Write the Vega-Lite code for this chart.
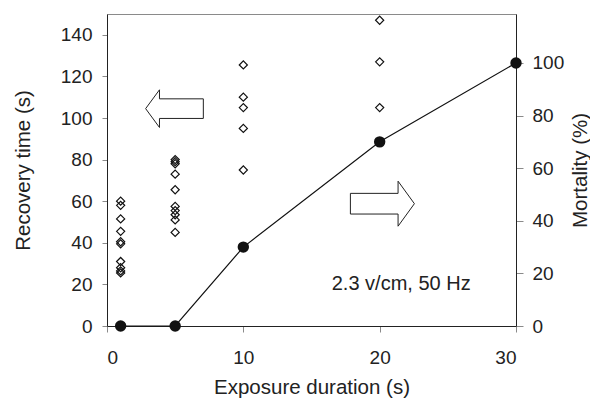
{
  "$schema": "https://vega.github.io/schema/vega-lite/v6.json",
  "autosize": "none",
  "width": 409,
  "height": 312,
  "padding": {"left": 107, "top": 14, "right": 74, "bottom": 74},
  "background": "white",
  "config": {
    "view": {"stroke": "#8a8a8a", "strokeWidth": 1},
    "font": "Liberation Sans",
    "axis": {
      "labelFont": "Liberation Sans",
      "titleFont": "Liberation Sans",
      "labelFontSize": 19,
      "titleFontSize": 20.5,
      "titleFontWeight": "normal",
      "labelColor": "#222",
      "titleColor": "#222",
      "domainColor": "#222",
      "tickColor": "#8a8a8a",
      "grid": false
    }
  },
  "datasets": {
    "recovery": [
      {"duration": 1, "recovery": 60},
      {"duration": 1, "recovery": 58},
      {"duration": 1, "recovery": 51.5},
      {"duration": 1, "recovery": 45.5},
      {"duration": 1, "recovery": 40.5},
      {"duration": 1, "recovery": 39.5},
      {"duration": 1, "recovery": 31},
      {"duration": 1, "recovery": 28},
      {"duration": 1, "recovery": 26.5},
      {"duration": 1, "recovery": 25.5},
      {"duration": 5, "recovery": 80},
      {"duration": 5, "recovery": 79},
      {"duration": 5, "recovery": 78},
      {"duration": 5, "recovery": 73},
      {"duration": 5, "recovery": 65.5},
      {"duration": 5, "recovery": 57.5},
      {"duration": 5, "recovery": 55.5},
      {"duration": 5, "recovery": 53.5},
      {"duration": 5, "recovery": 51},
      {"duration": 5, "recovery": 45},
      {"duration": 10, "recovery": 125.5},
      {"duration": 10, "recovery": 110},
      {"duration": 10, "recovery": 105},
      {"duration": 10, "recovery": 95},
      {"duration": 10, "recovery": 75},
      {"duration": 20, "recovery": 147},
      {"duration": 20, "recovery": 127},
      {"duration": 20, "recovery": 105}
    ],
    "mortality": [
      {"duration": 1, "mortality": 0},
      {"duration": 5, "mortality": 0},
      {"duration": 10, "mortality": 30},
      {"duration": 20, "mortality": 70},
      {"duration": 30, "mortality": 100}
    ]
  },
  "layer": [
    {
      "layer": [
        {
          "data": {"name": "recovery"},
          "mark": {"type": "point", "shape": "diamond", "size": 66, "filled": false, "stroke": "#111", "strokeWidth": 1.2, "opacity": 1},
          "encoding": {
            "x": {
              "field": "duration", "type": "quantitative",
              "scale": {"domain": [0, 30], "nice": false, "zero": false},
              "axis": {"values": [0, 10, 20, 30], "title": "Exposure duration (s)", "tickSize": 6, "labelPadding": 16, "titlePadding": 10}
            },
            "y": {
              "field": "recovery", "type": "quantitative",
              "scale": {"domain": [0, 150], "nice": false},
              "axis": {"values": [0, 20, 40, 60, 80, 100, 120, 140], "title": "Recovery time (s)", "tickSize": 5, "labelPadding": 10, "titlePadding": 27}
            }
          }
        },
        {
          "data": {"values": [{"duration": 4.95, "recovery": 104.5}]},
          "mark": {"type": "point", "shape": "M-1,0 L-0.52,-0.653 L-0.52,-0.34 L1,-0.34 L1,0.34 L-0.52,0.34 L-0.52,0.653 Z", "size": 3329, "filled": true, "fill": "white", "stroke": "#222", "strokeWidth": 1, "opacity": 1},
          "encoding": {
            "x": {"field": "duration", "type": "quantitative"},
            "y": {"field": "recovery", "type": "quantitative"}
          }
        },
        {
          "data": {"values": [{"duration": 20.2, "recovery": 58.8}]},
          "mark": {"type": "point", "shape": "M-1,-0.323 L0.49,-0.323 L0.49,-0.703 L1,0 L0.49,0.703 L0.49,0.323 L-1,0.323 Z", "size": 4096, "filled": true, "fill": "white", "stroke": "#222", "strokeWidth": 1, "opacity": 1},
          "encoding": {
            "x": {"field": "duration", "type": "quantitative"},
            "y": {"field": "recovery", "type": "quantitative"}
          }
        },
        {
          "data": {"values": [{"duration": 21.58, "recovery": 20, "label": "2.3 v/cm, 50 Hz"}]},
          "mark": {"type": "text", "font": "Liberation Sans", "fontSize": 20, "color": "#222", "align": "center", "baseline": "middle"},
          "encoding": {
            "x": {"field": "duration", "type": "quantitative"},
            "y": {"field": "recovery", "type": "quantitative"},
            "text": {"field": "label"}
          }
        }
      ]
    },
    {
      "data": {"name": "mortality"},
      "layer": [
        {
          "mark": {"type": "line", "color": "#111", "strokeWidth": 1.2, "clip": false},
          "encoding": {
            "x": {"field": "duration", "type": "quantitative"},
            "y": {
              "field": "mortality", "type": "quantitative",
              "scale": {"domain": [0, 118.6], "nice": false},
              "axis": {"orient": "right", "values": [0, 20, 40, 60, 80, 100], "title": "Mortality (%)", "titleAngle": 270, "tickSize": 7, "labelPadding": 9, "titlePadding": 27}
            }
          }
        },
        {
          "mark": {"type": "point", "shape": "circle", "size": 130, "filled": true, "color": "#111", "opacity": 1, "clip": false},
          "encoding": {
            "x": {"field": "duration", "type": "quantitative"},
            "y": {"field": "mortality", "type": "quantitative"}
          }
        }
      ]
    }
  ],
  "resolve": {"scale": {"y": "independent"}}
}
